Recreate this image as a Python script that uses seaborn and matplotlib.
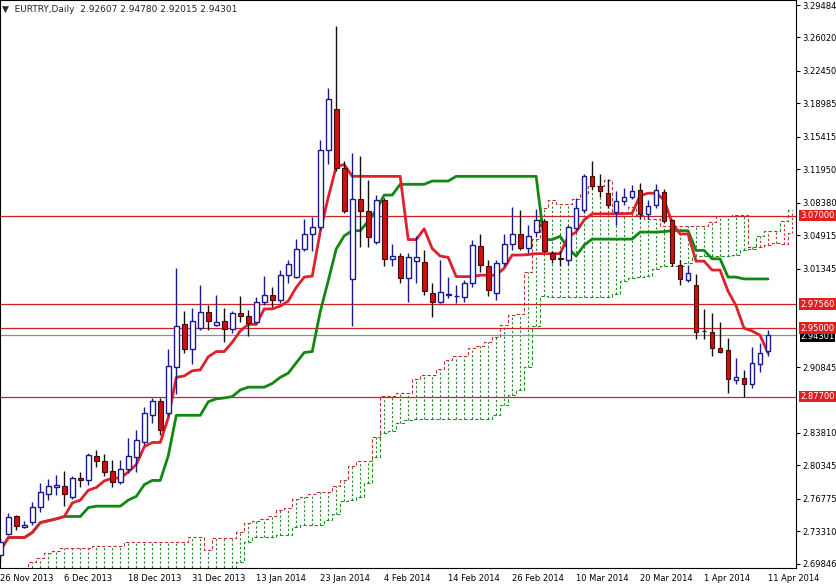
import numpy as np
import pandas as pd
import matplotlib
matplotlib.use("Agg")
import matplotlib.pyplot as plt
import seaborn as sns

opens = [2.708,2.730,2.749,2.738,2.743,2.759,2.773,2.781,2.782,2.770,2.790,2.788,2.814,2.808,2.798,2.786,2.800,2.813,2.829,2.857,
         2.872,2.859,2.909,2.954,2.928,2.950,2.967,2.953,2.958,2.949,2.966,2.963,2.957,2.978,2.985,2.980,3.007,3.005,3.034,3.051,
         3.058,3.140,3.184,3.121,3.002,3.088,3.075,3.042,3.087,3.024,3.027,3.003,3.022,3.021,2.988,2.978,2.985,2.984,2.983,2.998,
         3.038,3.016,2.987,3.020,3.040,3.050,3.035,3.053,3.064,3.030,3.024,3.023,3.057,3.076,3.112,3.102,3.094,3.074,3.086,3.090,
         3.097,3.072,3.081,3.095,3.065,3.017,3.001,2.996,2.947,2.946,2.929,2.927,2.895,2.897,2.890,2.912,2.92607]
highs = [2.726,2.753,2.751,2.744,2.764,2.785,2.789,2.793,2.798,2.792,2.796,2.817,2.820,2.816,2.809,2.809,2.833,2.841,2.866,2.875,
         2.875,2.928,3.014,2.968,2.971,2.996,2.975,2.985,2.971,2.968,2.984,2.969,2.983,3.006,2.994,3.012,3.023,3.045,3.067,3.069,
         3.151,3.206,3.272,3.128,3.137,3.134,3.108,3.092,3.089,3.040,3.030,3.030,3.048,3.033,2.998,3.023,3.005,2.996,3.001,3.044,
         3.051,3.023,3.023,3.051,3.079,3.076,3.060,3.077,3.067,3.032,3.032,3.060,3.089,3.115,3.128,3.114,3.109,3.096,3.100,3.103,
         3.105,3.087,3.104,3.098,3.067,3.023,3.017,3.008,2.970,2.966,2.957,2.939,2.918,2.905,2.930,2.934,2.94780]
lows = [2.700,2.729,2.735,2.737,2.740,2.754,2.767,2.772,2.760,2.768,2.781,2.783,2.802,2.792,2.781,2.784,2.795,2.797,2.825,2.849,
        2.836,2.856,2.880,2.923,2.912,2.948,2.948,2.952,2.935,2.945,2.957,2.942,2.955,2.975,2.973,2.977,2.998,3.003,3.032,3.032,
        3.055,3.125,3.118,3.073,2.952,3.037,3.037,3.040,3.016,3.016,2.998,2.978,2.998,2.985,2.962,2.977,2.982,2.977,2.978,2.994,
        3.010,2.984,2.980,3.016,3.033,3.033,3.030,3.047,3.031,3.020,3.016,3.017,3.055,3.073,3.099,3.090,3.078,3.060,3.081,3.088,
        3.067,3.067,3.078,3.062,3.016,2.996,2.999,2.938,2.938,2.920,2.924,2.881,2.890,2.877,2.886,2.903,2.92015]
closes = [2.722,2.748,2.739,2.740,2.759,2.775,2.782,2.783,2.773,2.790,2.788,2.815,2.808,2.797,2.786,2.800,2.814,2.831,2.859,2.872,
          2.841,2.910,2.952,2.928,2.958,2.967,2.958,2.957,2.949,2.966,2.963,2.956,2.978,2.985,2.980,3.007,3.018,3.034,3.051,3.058,
          3.140,3.195,3.121,3.075,3.088,3.075,3.047,3.087,3.024,3.027,3.003,3.026,3.026,2.990,2.978,2.989,2.986,2.984,2.998,3.039,
          3.017,2.991,3.020,3.040,3.050,3.035,3.048,3.065,3.032,3.024,3.0238,3.058,3.078,3.112,3.102,3.096,3.081,3.086,3.090,3.096,
          3.072,3.080,3.097,3.064,3.019,3.002,3.009,2.946,2.9465,2.929,2.925,2.896,2.898,2.890,2.913,2.924,2.94301]

span_a_early = [2.690,2.690,2.690,2.690,2.700,2.705,2.710,2.712,2.715,2.715,2.715,2.715,2.717,2.717,2.717,2.717,
                2.722,2.722,2.722,2.722,2.722,2.722,2.722,2.722,2.727,2.727]
span_b_early = [2.690]*30 + [2.700,2.722,2.727,2.727,2.727,2.729,2.729,2.738,2.740,2.740,2.740,2.745,2.752,2.765,2.767,2.770,
                2.785,2.813,2.838,2.840,2.849,2.852,2.853,2.853,2.853,2.853,2.853,2.853,2.853,2.853,2.853,2.853,
                2.857,2.868,2.879,2.884,2.909,2.952,2.984,2.983,2.983,2.983,2.983,2.983,2.983,2.983,2.983]

date_labels = ["26 Nov 2013","6 Dec 2013","18 Dec 2013","31 Dec 2013","13 Jan 2014","23 Jan 2014","4 Feb 2014",
               "14 Feb 2014","26 Feb 2014","10 Mar 2014","20 Mar 2014","1 Apr 2014","11 Apr 2014"]
date_pos = [0,8,16,24,32,40,48,56,64,72,80,88,96]
ytick_vals = [3.29484,3.26020,3.22450,3.18985,3.15415,3.11950,3.08380,3.04915,3.01345,2.90845,2.83810,2.80345,2.76775,2.73310,2.69846]
levels = [3.07000, 2.97560, 2.95000, 2.87700]
last_price = 2.94301

df = pd.DataFrame(dict(o=opens, h=highs, l=lows, c=closes))
n = len(df)
df["i"] = np.arange(n)
tenkan = (df.h.rolling(9, min_periods=1).max() + df.l.rolling(9, min_periods=1).min()) / 2
kijun = (df.h.rolling(26, min_periods=1).max() + df.l.rolling(26, min_periods=1).min()) / 2
sb52 = (df.h.rolling(52, min_periods=1).max() + df.l.rolling(52, min_periods=1).min()) / 2
N = n + 26
span_a = np.full(N, np.nan); span_b = np.full(N, np.nan)
span_a[26:] = ((tenkan + kijun) / 2).values
span_b[26:] = sb52.values
span_a[:len(span_a_early)] = span_a_early
span_b[:len(span_b_early)] = span_b_early

sns.set_style("white")
plt.rcParams['font.family'] = ['DejaVu Sans']
FS = 6.0
fig = plt.figure(figsize=(8.37, 5.86), dpi=100)
ax = fig.add_axes([0.0, 0.031, 0.951, 0.969])
XR = 99.5
ax.set_xlim(-0.05, XR)
ax.set_ylim(2.6942, 3.3002)

# cloud hatch
xs = np.arange(N)
vis = xs <= 99
for j in xs[vis]:
    a, b = span_a[j], span_b[j]
    col = "#228b22" if a >= b else "#c03030"
    ax.vlines(j, min(a, b), max(a, b), colors=col, linestyles=(0, (2, 2)), linewidth=0.8)
ax.plot(xs[vis], span_a[vis], color="#c03030", lw=0.8, ls=(0, (3, 2)), drawstyle="steps-mid")
ax.plot(xs[vis], span_b[vis], color="#228b22", lw=0.8, ls=(0, (3, 2)), drawstyle="steps-mid")

# level lines
for lv in levels:
    ax.axhline(lv, color="#d02020", lw=0.9)
ax.axhline(last_price, color="#8090a0", lw=0.9)

# indicator lines
sns.lineplot(x=df.i, y=kijun, ax=ax, color="#118811", lw=2)
sns.lineplot(x=df.i, y=tenkan, ax=ax, color="#e0202a", lw=2)

# candles
up = df.c >= df.o
ax.vlines(df.i[up], df.l[up], df.h[up], color="#1a1a8c", lw=1)
ax.vlines(df.i[~up], df.l[~up], df.h[~up], color="#111111", lw=1)
ax.bar(df.i[up], (df.c - df.o)[up].clip(lower=0.0006), bottom=df.o[up], width=0.6,
       color="white", edgecolor="#1a1a8c", linewidth=1, zorder=3)
ax.bar(df.i[~up], (df.o - df.c)[~up].clip(lower=0.0006), bottom=df.c[~up], width=0.6,
       color="#cc1111", edgecolor="#4a0a0a", linewidth=0.8, zorder=3)

ax.set_xlabel(""); ax.set_ylabel("")
ax.yaxis.tick_right()
ax.set_yticks(ytick_vals)
ax.set_yticklabels([f"{v:.5f}" for v in ytick_vals], fontsize=FS)
ax.set_xticks(date_pos)
ax.set_xticklabels(date_labels, fontsize=FS, ha="left")
ax.tick_params(axis="both", length=3, pad=1.5, colors="black")
for s in ax.spines.values():
    s.set_color("black"); s.set_linewidth(0.8)

for lv in levels:
    ax.text(XR + 0.55, lv, f"{lv:.5f}", fontsize=FS, color="white", va="center", ha="left",
            bbox=dict(boxstyle="square,pad=0.15", fc="#e02020", ec="none"), clip_on=False, zorder=10)
ax.text(XR + 0.55, last_price - 0.002, f"{last_price:.5f}", fontsize=FS, color="white", va="center", ha="left",
        bbox=dict(boxstyle="square,pad=0.1", fc="black", ec="none"), clip_on=False, zorder=9)

ax.text(0.003, 0.992, "▼  EURTRY,Daily  2.92607 2.94780 2.92015 2.94301", transform=ax.transAxes,
        fontsize=6.5, va="top", ha="left")
fig.savefig("out.png", dpi=100)
